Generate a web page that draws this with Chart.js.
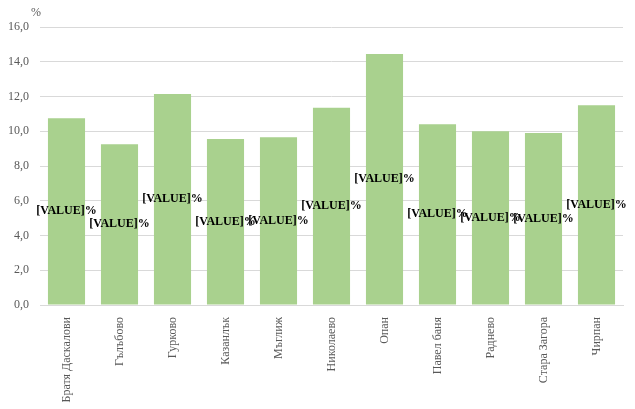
<!DOCTYPE html>
<html>
<head>
<meta charset="utf-8">
<script src="https://cdn.jsdelivr.net/npm/chart.js@4.4.0/dist/chart.umd.min.js"></script>
<style>
  html, body { margin: 0; padding: 0; background: #fff; }
  #wrap { width: 635px; height: 409px; }
</style>
</head>
<body>
<div id="wrap"><canvas id="myChart" width="635" height="409"></canvas></div>
<script>
const categories = ['Братя Даскалови', 'Гълъбово', 'Гурково', 'Казанлък', 'Мъглиж', 'Николаево', 'Опан', 'Павел баня', 'Раднево', 'Стара Загора', 'Чирпан'];
const values = [10.75, 9.25, 12.15, 9.55, 9.65, 11.35, 14.45, 10.4, 10.0, 9.9, 11.5];
const yMin = 0;
const yMax = 16;
const yStep = 2;
const labelText = '[VALUE]%';

const serif = '"Liberation Serif", "Times New Roman", serif';

// draws the "%" unit and the labels in the middle of each bar
const barLabels = {
    id: 'barLabels',
    afterDatasetsDraw(chart) {
        const c = chart.ctx;
        c.save();
        c.fillStyle = '#595959';
        c.font = '12px ' + serif;
        c.textAlign = 'left';
        c.textBaseline = 'middle';
        c.fillText('%', 31, 13);

        c.fillStyle = '#000';
        c.font = 'bold 12px ' + serif;
        c.textAlign = 'center';
        chart.getDatasetMeta(0).data.forEach(function(bar) {
            const mid = (bar.y + bar.base) / 2;
            c.fillText(labelText, bar.x, mid);
        });
        c.restore();
    }
};

const ctx = document.getElementById('myChart');

new Chart(ctx, {
    type: 'bar',
    data: {
        labels: categories,
        datasets: [{
            data: values,
            backgroundColor: '#A9D18E',
            categoryPercentage: 1,
            barPercentage: 0.7
        }]
    },
    options: {
        responsive: false,
        animation: false,
        layout: { padding: { top: 27, right: 12, left: 0, bottom: 0 } },
        plugins: {
            legend: { display: false },
            tooltip: { enabled: false }
        },
        scales: {
            x: {
                grid: { display: false, drawTicks: false },
                border: { color: '#D9D9D9' },
                ticks: {
                    autoSkip: false,
                    minRotation: 90,
                    maxRotation: 90,
                    padding: 12,
                    color: '#595959',
                    font: { family: serif, size: 12 }
                },
                afterFit(scale) { scale.height = 104; }
            },
            y: {
                min: yMin,
                max: yMax,
                grid: { color: '#D9D9D9', drawTicks: false },
                border: { display: false },
                ticks: {
                    stepSize: yStep,
                    padding: 11,
                    color: '#595959',
                    font: { family: serif, size: 12 },
                    callback: function(v) { return v.toFixed(1).replace('.', ','); }
                },
                afterFit(scale) { scale.width = 40; }
            }
        }
    },
    plugins: [barLabels]
});
</script>
</body>
</html>
